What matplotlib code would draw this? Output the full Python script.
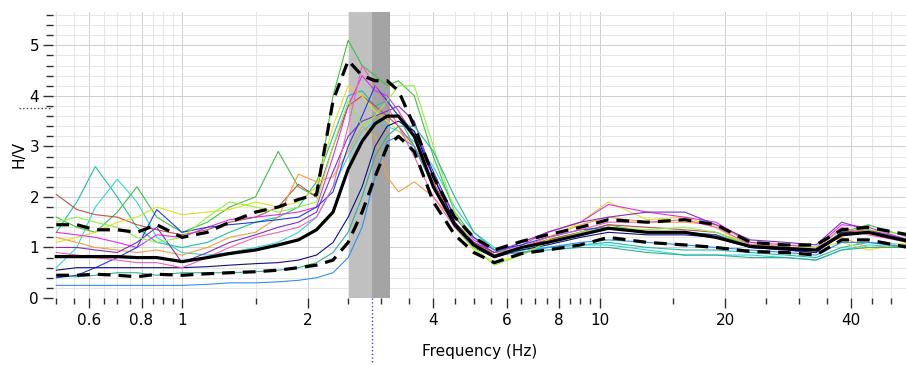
import numpy as np
import matplotlib
matplotlib.use("Agg")
import matplotlib.pyplot as plt
from matplotlib.ticker import FixedLocator, NullFormatter, FixedFormatter

# frequency samples (Hz) shared by every curve
freq = [0.5, 0.56, 0.62, 0.7, 0.78, 0.87, 1.0, 1.15, 1.3, 1.5, 1.7, 1.9,
        2.1, 2.3, 2.5, 2.7, 2.9, 3.1, 3.3, 3.6, 4.0, 4.5, 5.0, 5.6, 6.5,
        7.5, 9.0, 10.5, 13, 16, 19, 23, 28, 33, 38, 44, 55]

# individual window H/V curves
hv_teal = [1.3, 1.9, 2.6, 2.0, 1.4, 1.1, 1.0, 1.1, 1.3, 1.5, 1.6, 1.8,
           2.3, 3.2, 4.0, 4.1, 3.8, 3.9, 3.6, 3.0, 2.2, 1.5, 1.1, 0.9, 0.95,
           1.0, 1.05, 1.1, 1.0, 0.95, 0.95, 0.9, 0.85, 0.8, 1.0, 1.1, 1.05]
hv_cyan = [0.6, 1.0, 1.8, 2.35, 1.9, 1.2, 0.9, 0.85, 0.9, 1.0, 1.1, 1.3,
           1.6, 2.2, 2.8, 3.3, 3.5, 3.4, 3.3, 3.1, 2.6, 1.8, 1.3, 1.0, 0.95,
           1.0, 1.05, 1.05, 0.95, 0.85, 0.85, 0.85, 0.8, 0.75, 0.95, 1.05, 1.0]
hv_green = [1.6, 1.4, 1.3, 1.7, 2.2, 1.6, 1.3, 1.5, 1.8, 2.0, 2.9, 2.2,
            2.0, 4.0, 5.1, 4.6, 4.4, 4.2, 4.3, 4.0, 2.8, 1.7, 1.2, 0.85, 1.0,
            1.15, 1.3, 1.45, 1.3, 1.3, 1.25, 1.05, 1.0, 0.95, 1.3, 1.45, 1.2]
hv_red = [2.05, 1.75, 1.65, 1.6, 1.45, 1.35, 1.25, 1.35, 1.5, 1.6, 1.8, 2.25,
          2.0, 3.0, 3.8, 4.0, 3.8, 3.6, 3.4, 3.0, 2.3, 1.5, 1.1, 0.85, 1.0,
          1.15, 1.3, 1.45, 1.4, 1.35, 1.3, 1.05, 1.0, 0.95, 1.3, 1.35, 1.1]
hv_orange = [1.2, 1.1, 1.0, 0.95, 0.9, 0.95, 0.85, 1.0, 1.2, 1.3, 1.6, 2.45,
             2.3, 2.4, 2.9, 3.4, 3.2, 2.4, 2.1, 2.3, 2.0, 1.5, 1.1, 0.9, 1.0,
             1.2, 1.45, 1.6, 1.5, 1.5, 1.45, 1.1, 1.0, 1.0, 1.2, 1.0, 1.05]
hv_yellow = [1.1, 1.2, 1.3, 1.5, 1.6, 1.8, 1.65, 1.7, 1.75, 1.9, 1.8, 1.9,
             2.2, 3.4, 4.2, 4.0, 3.7, 3.5, 3.3, 3.0, 2.2, 1.4, 0.95, 0.7, 0.85,
             1.15, 1.5, 1.9, 1.55, 1.6, 1.4, 1.0, 1.0, 1.0, 1.1, 0.95, 1.1]
hv_magenta = [1.3, 1.25, 1.2, 1.1, 1.0, 1.25, 1.2, 1.4, 1.55, 1.6, 1.65, 1.7,
              1.8, 2.8, 3.8, 4.4, 4.1, 4.0, 3.7, 3.2, 2.4, 1.6, 1.15, 0.9, 1.05,
              1.3, 1.5, 1.85, 1.7, 1.6, 1.5, 1.1, 1.05, 1.0, 1.45, 1.4, 1.15]
hv_purple = [1.0, 1.0, 0.95, 0.9, 1.1, 1.4, 0.7, 0.9, 1.1, 1.25, 1.4, 1.5,
             1.7, 2.5, 3.2, 3.5, 3.6, 3.7, 3.8, 3.5, 2.4, 1.5, 1.1, 0.9, 1.1,
             1.3, 1.5, 1.6, 1.7, 1.7, 1.45, 1.15, 1.1, 1.05, 1.5, 1.35, 1.15]
hv_blue = [0.4, 0.45, 0.6, 0.8, 1.0, 1.75, 1.3, 1.4, 1.45, 1.5, 1.55, 1.6,
           1.8, 2.1, 3.0, 3.6, 4.2, 3.9, 3.6, 3.3, 2.5, 1.6, 1.2, 0.95, 1.05,
           1.2, 1.35, 1.4, 1.3, 1.3, 1.25, 1.0, 0.95, 0.9, 1.25, 1.3, 1.1]
hv_navy = [0.55, 0.6, 0.6, 0.6, 0.6, 0.6, 0.6, 0.62, 0.65, 0.68, 0.7, 0.75,
           0.85, 1.1, 1.6, 2.2, 3.0, 3.4, 3.5, 3.3, 2.4, 1.5, 1.0, 0.8, 0.95,
           1.05, 1.2, 1.3, 1.25, 1.25, 1.2, 1.0, 0.95, 0.9, 1.3, 1.3, 1.15]
hv_skyblue = [0.25, 0.25, 0.25, 0.25, 0.25, 0.25, 0.25, 0.27, 0.3, 0.3, 0.32, 0.35,
              0.4, 0.5, 0.8, 1.4, 2.4, 3.1, 3.2, 3.0, 2.2, 1.4, 1.0, 0.85, 0.9,
              1.0, 1.1, 1.15, 1.1, 1.05, 1.0, 0.95, 0.9, 0.85, 1.1, 1.1, 1.0]
hv_lime = [1.5, 1.6, 1.5, 1.4, 1.2, 1.1, 1.2, 1.6, 1.9, 1.8, 1.7, 1.8,
           1.9, 3.0, 3.9, 3.4, 3.6, 3.9, 4.2, 4.2, 3.0, 1.7, 1.0, 0.65, 0.85,
           1.1, 1.3, 1.4, 1.35, 1.4, 1.3, 1.05, 1.0, 1.0, 1.35, 1.35, 1.25]
hv_pink = [0.9, 0.85, 0.8, 0.75, 0.7, 0.7, 0.6, 0.8, 1.0, 1.2, 1.3, 1.4,
           1.6, 2.2, 3.4, 4.6, 4.2, 3.8, 3.4, 2.8, 2.0, 1.4, 1.05, 0.85, 1.0,
           1.2, 1.35, 1.5, 1.5, 1.55, 1.4, 1.05, 1.0, 0.95, 1.4, 1.25, 1.1]
hv_seagreen = [0.45, 0.42, 0.45, 0.5, 0.5, 0.45, 0.5, 0.5, 0.5, 0.52, 0.55, 0.6,
               0.7, 0.9, 1.3, 2.0, 2.8, 3.2, 3.4, 3.4, 2.9, 2.0, 1.3, 0.95, 0.9,
               0.95, 1.0, 1.0, 0.9, 0.85, 0.85, 0.8, 0.8, 0.75, 0.95, 1.0, 1.0]

# average curve and its +/- standard deviation
hv_mean = [0.82, 0.82, 0.82, 0.82, 0.80, 0.80, 0.72, 0.80, 0.88, 0.95, 1.05, 1.15,
           1.35, 1.7, 2.55, 3.1, 3.45, 3.6, 3.6, 3.2, 2.2, 1.45, 1.05, 0.82, 1.0,
           1.1, 1.25, 1.38, 1.3, 1.3, 1.2, 1.02, 0.98, 0.95, 1.25, 1.3, 1.12]
hv_plus = [1.45, 1.45, 1.35, 1.35, 1.3, 1.45, 1.2, 1.3, 1.5, 1.7, 1.8, 1.95,
           2.05, 3.9, 4.7, 4.4, 4.3, 4.3, 4.1, 3.4, 2.4, 1.6, 1.2, 0.95, 1.12,
           1.25, 1.4, 1.55, 1.5, 1.55, 1.45, 1.1, 1.05, 1.05, 1.35, 1.4, 1.25]
hv_minus = [0.45, 0.45, 0.47, 0.45, 0.42, 0.47, 0.45, 0.48, 0.5, 0.52, 0.55, 0.6,
            0.65, 0.75, 1.1, 1.7, 2.4, 3.0, 3.2, 2.9, 1.9, 1.25, 0.9, 0.7, 0.88,
            0.95, 1.05, 1.2, 1.1, 1.05, 1.0, 0.92, 0.9, 0.85, 1.15, 1.15, 1.0]

# peak frequency band and peak marker
f0_low, f0, f0_high = 2.51, 2.85, 3.15
a0 = 3.76

windows = [hv_teal, hv_cyan, hv_green, hv_red, hv_orange, hv_yellow, hv_magenta,
           hv_purple, hv_blue, hv_navy, hv_skyblue, hv_lime, hv_pink, hv_seagreen]
colors = ['#20c0a0', '#30d8d8', '#40c040', '#c05050', '#f0a040', '#e0e020', '#e030e0',
          '#8030c0', '#2040e0', '#101080', '#3090f0', '#90f040', '#f060c0', '#30b090']

fig = plt.figure(figsize=(9.06, 3.65), dpi=100)
ax = fig.add_axes([53 / 906, 67 / 365, 853 / 906, 286 / 365])

ax.set_xscale('log')
ax.set_xlim(0.491, 54.2)
ax.set_ylim(0, 5.66)

# gray band around f0
ax.axvspan(f0_low, f0, color='#c0c0c0', lw=0, zorder=1)
ax.axvspan(f0, f0_high, color='#a4a4a4', lw=0, zorder=1)

for hv, c in zip(windows, colors):
    ax.plot(freq, hv, color=c, lw=0.8, zorder=2)

ax.plot(freq, hv_plus, color='black', lw=2.3, ls=(0, (4, 2.5)), zorder=3)
ax.plot(freq, hv_minus, color='black', lw=2.3, ls=(0, (4, 2.5)), zorder=3)
ax.plot(freq, hv_mean, color='black', lw=2.3, zorder=4)

# ticks
major_x = [0.6, 0.8, 1, 2, 4, 6, 8, 10, 20, 40]
minor_x = [0.5, 0.55, 0.65, 0.7, 0.75, 0.85, 0.9, 0.95, 1.5, 2.5, 3, 3.5, 4.5, 5,
           5.5, 6.5, 7, 7.5, 8.5, 9, 9.5, 15, 25, 30, 35, 45, 50]
ax.xaxis.set_major_locator(FixedLocator(major_x))
ax.xaxis.set_major_formatter(FixedFormatter(['0.6', '0.8', '1', '2', '4', '6', '8', '10', '20', '40']))
ax.xaxis.set_minor_locator(FixedLocator(minor_x))
ax.xaxis.set_minor_formatter(NullFormatter())
ax.yaxis.set_major_locator(FixedLocator([0, 1, 2, 3, 4, 5]))
ax.yaxis.set_minor_locator(FixedLocator(np.arange(0, 5.7, 0.2)))

ax.tick_params(axis='x', which='major', length=7, width=1, pad=4, labelsize=11, color='#303030')
ax.tick_params(axis='x', which='minor', length=4, width=1, color='#303030')
ax.tick_params(axis='y', which='major', length=7, width=1, pad=3, labelsize=11, color='#303030')
ax.tick_params(axis='y', which='minor', length=5, width=1, color='#303030')

ax.grid(True, which='major', color='#cfcfcf', lw=0.7, zorder=0)
ax.grid(True, which='minor', color='#e2e2e2', lw=0.6, zorder=0)
ax.set_axisbelow(True)

for s in ax.spines.values():
    s.set_visible(False)

ax.set_xlabel('Frequency (Hz)', fontsize=11, labelpad=11)
ax.set_ylabel('H/V', fontsize=11, labelpad=2)

# peak markers outside the plot area
ax.plot([f0, f0], [0, -0.23], transform=ax.get_xaxis_transform(), color='#4040c0',
        lw=1, ls=':', clip_on=False)
ax.plot([-0.04, -0.004], [a0, a0], transform=ax.get_yaxis_transform(), color='#404040',
        lw=1, ls=':', clip_on=False)

fig.savefig('out.png', dpi=100)
